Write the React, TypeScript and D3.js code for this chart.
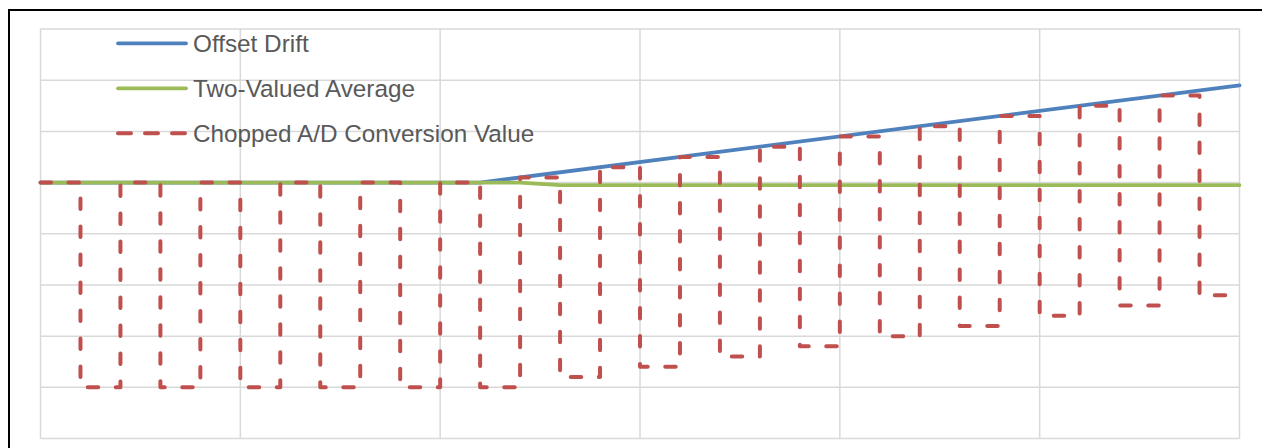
import React from "react";
import * as d3 from "d3";

const chopX = [0,1,2,3,4,5,6,7,8,9,10,11,12,13,14,15,16,17,18,19,20,21,22,23,24,25,26,27,28,29,30];
const chopY = [0,-4,0,-4,0,-4,0,-4,0,-4,0,-4,0.1,-3.8,0.3,-3.6,0.5,-3.4,0.7,-3.2,0.9,-3.0,1.1,-2.8,1.3,-2.6,1.5,-2.4,1.7,-2.2,-2.2];
const driftX = [0, 11, 30];
const driftY = [0, 0, 1.9];
const avgX = [0, 12, 13, 30];
const avgY = [0, 0, -0.05, -0.05];
const xTicks = [0, 5, 10, 15, 20, 25, 30];
const yTicks = [-5, -4, -3, -2, -1, 0, 1, 2, 3];
const legendLabels = ["Offset Drift", "Two-Valued Average", "Chopped A/D Conversion Value"];
const colors = ["#4F81BD", "#9BBB59", "#C0504D"];

export default function App() {
  const W = 1262, H = 448;
  const x = d3.scaleLinear().domain([0, 30]).range([40.5, 1239.5]);
  const y = d3.scaleLinear().domain([-5, 3]).range([438.5, 29]);
  const pts = (xs: number[], ys: number[]) => xs.map((v, i) => [v, ys[i]] as [number, number]);
  const line = d3.line<[number, number]>().x(d => x(d[0])).y(d => y(d[1]));
  const stepLine = d3.line<[number, number]>().x(d => x(d[0])).y(d => y(d[1])).curve(d3.curveStepAfter);

  const legendY = [43.3, 88.3, 133.3];
  return (
    <svg width={W} height={H} style={{ position: "absolute", left: 0, top: 0 }}>
      <rect x={0} y={0} width={W} height={H} fill="#fff" />
      <rect x={9} y={10} width={1400} height={600} fill="none" stroke="#000" strokeWidth={2} />
      {xTicks.map(t => (
        <line key={"gx" + t} x1={x(t)} x2={x(t)} y1={y(3)} y2={y(-5)} stroke="#D9D9D9" strokeWidth={1.5} />
      ))}
      {yTicks.map(t => (
        <line key={"gy" + t} x1={x(0)} x2={x(30)} y1={y(t)} y2={y(t)} stroke="#D9D9D9" strokeWidth={1.5} />
      ))}
      <path d={line(pts(driftX, driftY)) || ""} fill="none" stroke={colors[0]} strokeWidth={3.75} strokeLinecap="round" />
      <path d={line(pts(avgX, avgY)) || ""} fill="none" stroke={colors[1]} strokeWidth={3.75} strokeLinecap="round" />
      <path d={stepLine(pts(chopX, chopY)) || ""} fill="none" stroke={colors[2]} strokeWidth={4}
        strokeDasharray="10.5 17.5" strokeLinecap="round" strokeLinejoin="round" />
      {legendLabels.map((lab, i) => (
        <g key={lab}>
          <line x1={118} x2={186} y1={legendY[i]} y2={legendY[i]} stroke={colors[i]} strokeWidth={i === 2 ? 4 : 3.75}
            strokeLinecap="round" strokeDasharray={i === 2 ? "13 14" : undefined} />
          <text x={193} y={legendY[i] + 8.3} fill="#595959"
            style={{ font: "24.3px 'Liberation Sans', Arial, sans-serif" }}>{lab}</text>
        </g>
      ))}
    </svg>
  );
}
